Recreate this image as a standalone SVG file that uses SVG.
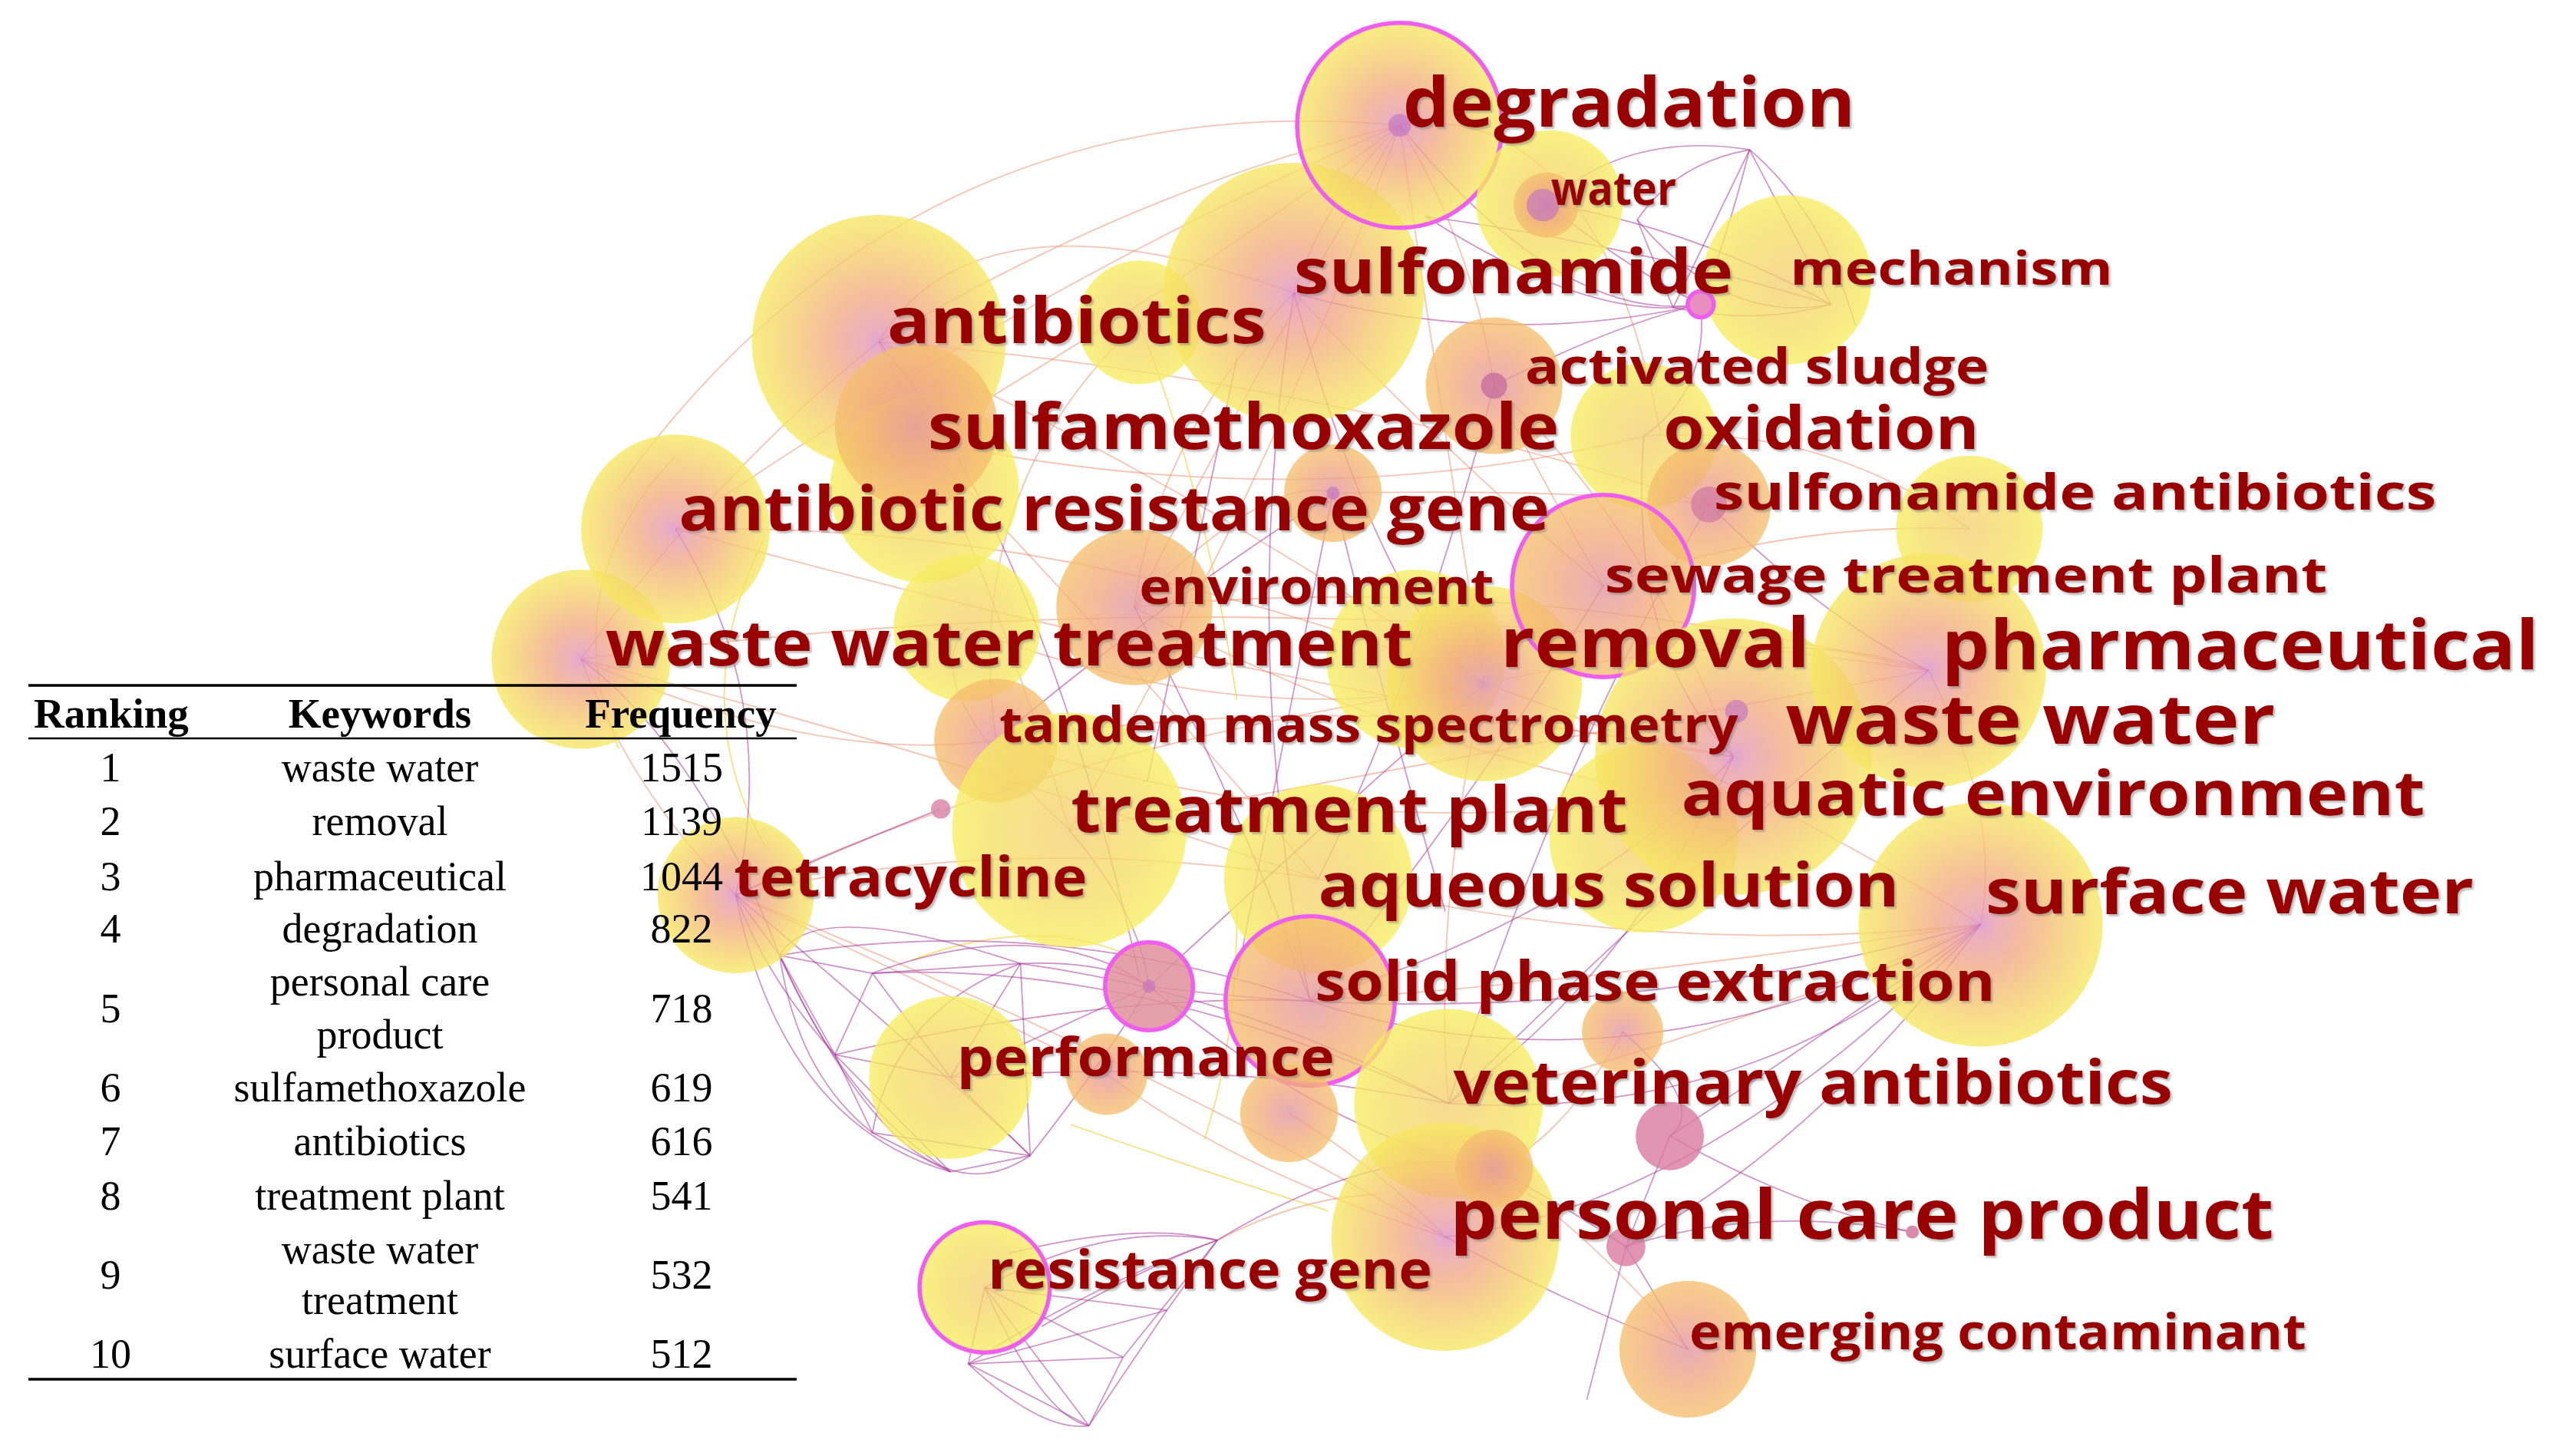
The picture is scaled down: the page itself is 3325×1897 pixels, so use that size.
<svg xmlns="http://www.w3.org/2000/svg" width="3325" height="1897" viewBox="0 0 3325 1897">
<defs>
<style>
.e1{fill:none;stroke:#ee8a66;stroke-opacity:.5;stroke-width:.85}
.e2{fill:none;stroke:#a8359a;stroke-opacity:.55;stroke-width:.8}
.e3{fill:none;stroke:#f2cf3a;stroke-opacity:.65;stroke-width:.85}
.n{fill-opacity:.78}
.ring{fill:none;stroke:#f05ef0;stroke-width:2.6}
.dot{fill:#c070c0;fill-opacity:.6}
.lb{font-family:'Open Sans','DejaVu Sans',sans-serif;font-weight:700;fill:#990000}
.th{font-family:'Liberation Serif','Times New Roman',serif;font-weight:700;font-size:55px;fill:#000;text-anchor:middle}
.td{font-family:'Liberation Serif','Times New Roman',serif;font-size:54px;fill:#000;text-anchor:middle}
.tl{stroke:#000;fill:none}
</style>
<radialGradient id="gRY"><stop offset="0" stop-color="#d88cc6"/><stop offset="0.12" stop-color="#e79aaa"/><stop offset="0.38" stop-color="#f2a982"/><stop offset="0.68" stop-color="#f6c96e"/><stop offset="1" stop-color="#f6e860"/></radialGradient>
<radialGradient id="gOY"><stop offset="0" stop-color="#e293a2"/><stop offset="0.55" stop-color="#f2aa7c"/><stop offset="1" stop-color="#f5c06c"/></radialGradient>
<radialGradient id="gYY"><stop offset="0" stop-color="#f4cf72"/><stop offset="0.7" stop-color="#f6e064"/><stop offset="1" stop-color="#f7ee60"/></radialGradient>
<radialGradient id="gPK"><stop offset="0" stop-color="#d97aa0"/><stop offset="1" stop-color="#e49a95"/></radialGradient>
<filter id="sh" x="-5%" y="-30%" width="110%" height="160%"><feDropShadow dx="1.2" dy="1.3" stdDeviation="0.6" flood-color="#777" flood-opacity="0.5"/></filter>
</defs>
<rect width="3325" height="1897" fill="#fff"/>
<g transform="scale(2.1205)">
<g id="connectors">
<path class="e1" d="M860,77 Q700,115 540,210"/>
<path class="e1" d="M860,77 Q735,170 565,270"/>
<path class="e1" d="M860,77 Q640,170 415,325"/>
<path class="e1" d="M860,77 Q770,230 697,373"/>
<path class="e1" d="M860,77 Q885,250 912,420"/>
<path class="e1" d="M860,77 Q815,120 795,180"/>
<path class="e1" d="M860,77 Q905,150 918,237"/>
<path class="e1" d="M860,77 Q780,300 657,510"/>
<path class="e1" d="M860,77 Q560,50 380,300"/>
<path class="e1" d="M860,77 Q980,60 1020,265"/>
<path class="e1" d="M540,210 Q720,290 912,420"/>
<path class="e1" d="M540,210 Q610,350 657,510"/>
<path class="e1" d="M540,210 Q440,290 357,405"/>
<path class="e1" d="M540,210 Q800,230 1050,310"/>
<path class="e1" d="M540,210 Q600,110 795,180"/>
<path class="e1" d="M415,325 Q660,320 912,420"/>
<path class="e1" d="M415,325 Q720,410 1065,465"/>
<path class="e1" d="M357,405 Q760,350 1185,412"/>
<path class="e1" d="M357,405 Q600,470 810,540"/>
<path class="e1" d="M357,405 Q390,490 452,550"/>
<path class="e1" d="M565,270 Q800,320 1010,268"/>
<path class="e1" d="M565,270 Q690,400 810,540"/>
<path class="e1" d="M697,373 Q930,350 1185,412"/>
<path class="e1" d="M697,373 Q860,460 1033,490"/>
<path class="e1" d="M912,420 Q1060,470 1217,568"/>
<path class="e1" d="M912,420 Q880,560 890,678"/>
<path class="e1" d="M612,455 Q850,420 1065,465"/>
<path class="e1" d="M657,510 Q920,460 1185,412"/>
<path class="e1" d="M452,550 Q620,510 810,540"/>
<path class="e1" d="M452,550 Q700,650 888,760"/>
<path class="e1" d="M810,540 Q1010,590 1217,568"/>
<path class="e1" d="M805,615 Q1010,600 1217,568"/>
<path class="e1" d="M890,678 Q1050,640 1217,568"/>
<path class="e1" d="M985,360 Q1100,320 1210,325"/>
<path class="e1" d="M1010,268 Q1120,260 1210,325"/>
<path class="e1" d="M918,237 Q1010,320 1065,465"/>
<path class="e1" d="M795,180 Q900,290 985,360"/>
<path class="e1" d="M795,180 Q710,270 697,373"/>
<path class="e1" d="M612,455 Q810,520 1033,490"/>
<path class="e1" d="M452,550 Q640,460 912,420"/>
<path class="e1" d="M357,405 Q500,470 612,455"/>
<path class="e1" d="M612,455 Q590,300 700,198"/>
<path class="e1" d="M657,510 Q560,420 594,386"/>
<path class="e1" d="M697,373 Q780,290 819,303"/>
<path class="e1" d="M819,303 Q960,300 1050,310"/>
<path class="e1" d="M594,386 Q760,450 912,420"/>
<path class="e1" d="M748,762 Q800,735 846,734"/>
<path class="e1" d="M680,660 Q760,720 888,760"/>
<path class="e1" d="M912,420 Q1100,380 1185,412"/>
<path class="e1" d="M1185,412 Q1230,500 1217,568"/>
<path class="e1" d="M985,360 Q950,300 918,237"/>
<path class="e1" d="M452,550 Q560,600 680,660"/>
<path class="e1" d="M792,684 Q850,720 888,760"/>
<path class="e1" d="M997,634 Q960,700 918,718"/>
<path class="e1" d="M1037,829 Q980,760 918,718"/>
<path class="e3" d="M700,198 Q740,300 760,430"/>
<path class="e3" d="M415,280 Q340,360 380,460"/>
<path class="e3" d="M470,330 Q420,430 470,520"/>
<path class="e3" d="M560,590 Q640,560 700,590"/>
<path class="e3" d="M760,560 Q760,640 740,700"/>
<path class="e3" d="M658,691 Q740,720 816,744"/>
<path class="e2" d="M1075,92 L1028,189"/>
<path class="e2" d="M1075,92 Q1060,150 1045,187"/>
<path class="e2" d="M1075,92 Q1100,140 1125,187"/>
<path class="e2" d="M1075,92 Q1030,100 1006,135"/>
<path class="e2" d="M1075,92 Q1000,80 950,125"/>
<path class="e2" d="M1075,92 Q1120,130 1140,200"/>
<path class="e2" d="M950,125 Q1000,165 1045,187"/>
<path class="e2" d="M950,125 Q1040,140 1125,187"/>
<path class="e2" d="M876,133 Q1000,150 1125,187"/>
<path class="e2" d="M876,133 Q980,200 1045,187"/>
<path class="e2" d="M1006,135 Q1060,200 1125,187"/>
<path class="e2" d="M1028,189 Q1080,200 1125,187"/>
<path class="e2" d="M860,77 Q960,200 1045,187"/>
<path class="e2" d="M795,180 Q920,215 1045,187"/>
<path class="e2" d="M918,237 Q990,200 1045,187"/>
<path class="e2" d="M1006,135 Q1020,170 1028,189"/>
<path class="e2" d="M1045,187 Q1050,240 1010,268"/>
<path class="e2" d="M819,303 L760,600"/>
<path class="e2" d="M819,303 Q850,430 888,560"/>
<path class="e2" d="M697,373 Q760,490 805,615"/>
<path class="e2" d="M760,220 L705,480"/>
<path class="e2" d="M612,455 Q700,380 819,303"/>
<path class="e2" d="M540,210 Q640,330 700,600"/>
<path class="e2" d="M795,180 Q760,400 805,615"/>
<path class="e2" d="M795,180 Q850,380 912,420"/>
<path class="e2" d="M918,237 Q870,420 810,540"/>
<path class="e2" d="M1050,310 Q960,460 890,678"/>
<path class="e2" d="M1065,465 Q980,560 805,615"/>
<path class="e2" d="M1065,465 Q1000,600 890,678"/>
<path class="e2" d="M1185,412 Q1050,520 890,678"/>
<path class="e2" d="M912,420 Q820,500 706,606"/>
<path class="e2" d="M985,360 Q900,500 805,615"/>
<path class="e2" d="M657,510 Q700,560 706,606"/>
<path class="e2" d="M1010,268 Q1000,400 1065,465"/>
<path class="e2" d="M1050,310 Q1120,380 1185,412"/>
<path class="e2" d="M479,587 Q640,560 805,615"/>
<path class="e2" d="M536,598 Q700,590 890,678"/>
<path class="e2" d="M513,648 Q680,610 805,615"/>
<path class="e2" d="M627,592 Q760,610 890,678"/>
<path class="e2" d="M706,606 Q960,640 1217,568"/>
<path class="e2" d="M805,615 Q1000,680 1217,568"/>
<path class="e2" d="M890,678 Q1080,690 1217,568"/>
<path class="e2" d="M1217,568 Q1100,650 1026,698"/>
<path class="e2" d="M1217,568 Q1120,700 999,766"/>
<path class="e2" d="M1217,568 Q1050,740 888,760"/>
<path class="e2" d="M584,662 Q750,650 890,678"/>
<path class="e2" d="M706,606 Q820,700 918,718"/>
<path class="e2" d="M888,760 Q960,800 1037,829"/>
<path class="e2" d="M999,766 L1037,829"/>
<path class="e2" d="M999,766 Q1080,740 1175,757"/>
<path class="e2" d="M1026,698 Q1100,740 1175,757"/>
<path class="e2" d="M999,766 Q985,820 975,860"/>
<path class="e2" d="M918,718 Q960,740 999,766"/>
<path class="e2" d="M1026,698 L999,766"/>
<path class="e2" d="M997,634 Q1050,680 1026,698"/>
<path class="e2" d="M748,762 Q850,700 918,718"/>
<path class="e2" d="M452,550 L479,587"/>
<path class="e2" d="M452,550 Q470,600 513,648"/>
<path class="e2" d="M452,550 Q480,690 584,720"/>
<path class="e2" d="M479,587 L536,598"/>
<path class="e2" d="M479,587 L513,648"/>
<path class="e2" d="M479,587 Q490,660 536,696"/>
<path class="e2" d="M479,587 Q520,680 584,720"/>
<path class="e2" d="M536,598 L627,592"/>
<path class="e2" d="M536,598 L513,648"/>
<path class="e2" d="M536,598 L584,662"/>
<path class="e2" d="M627,592 L584,662"/>
<path class="e2" d="M627,592 L633,710"/>
<path class="e2" d="M627,592 Q680,590 706,606"/>
<path class="e2" d="M513,648 L536,696"/>
<path class="e2" d="M513,648 L584,720"/>
<path class="e2" d="M513,648 L584,662"/>
<path class="e2" d="M536,696 L584,720"/>
<path class="e2" d="M536,696 L633,710"/>
<path class="e2" d="M584,720 L633,710"/>
<path class="e2" d="M633,710 L584,662"/>
<path class="e2" d="M633,710 Q680,650 706,606"/>
<path class="e2" d="M584,662 L706,606"/>
<path class="e2" d="M536,598 Q640,560 706,606"/>
<path class="e2" d="M479,587 Q500,550 627,592"/>
<path class="e2" d="M536,696 Q550,620 627,592"/>
<path class="e2" d="M452,550 Q560,640 633,710"/>
<path class="e2" d="M479,587 Q560,760 633,710"/>
<path class="e2" d="M452,550 Q520,520 578,497"/>
<path class="e2" d="M415,325 Q480,430 452,550"/>
<path class="e2" d="M357,405 Q430,460 479,587"/>
<path class="e2" d="M605,791 Q680,750 748,762"/>
<path class="e2" d="M605,791 L717,805"/>
<path class="e2" d="M605,791 L690,834"/>
<path class="e2" d="M605,791 L595,838"/>
<path class="e2" d="M605,791 L669,876"/>
<path class="e2" d="M595,838 L669,876"/>
<path class="e2" d="M595,838 L690,834"/>
<path class="e2" d="M595,838 L717,805"/>
<path class="e2" d="M748,762 L690,834"/>
<path class="e2" d="M748,762 L717,805"/>
<path class="e2" d="M717,805 L669,876"/>
<path class="e2" d="M690,834 L669,876"/>
<path class="e2" d="M595,838 Q670,790 748,762"/>
<path class="e2" d="M620,770 Q700,750 748,762"/>
<path class="e2" d="M595,838 Q640,880 669,876"/>
<path class="e2" d="M605,791 Q640,870 669,876"/>
<path class="e2" d="M640,815 Q700,780 748,762"/>
</g>
<g id="nodes">
<g id="node-waste-water-treatment"><circle class="n" cx="357" cy="405" r="55" fill="url(#gRY)"/></g>
<g id="node-antibiotic-resistance-gene"><circle class="n" cx="415" cy="325" r="58" fill="url(#gRY)"/></g>
<g id="node-antibiotics"><circle class="n" cx="540" cy="210" r="78" fill="url(#gRY)"/></g>
<g id="node-y1"><circle class="n" cx="568" cy="300" r="58" fill="url(#gYY)"/></g>
<g id="node-sulfamethoxazole"><circle class="n" cx="563" cy="262" r="50" fill="url(#gOY)"/></g>
<g id="node-y2"><circle class="n" cx="700" cy="198" r="38" fill="url(#gYY)"/></g>
<g id="node-sulfonamide"><circle class="n" cx="795" cy="180" r="80" fill="url(#gRY)"/></g>
<g id="node-degradation"><circle class="n" cx="860" cy="77" r="63" fill="url(#gRY)"/><circle class="ring" cx="860" cy="77" r="63"/><circle class="dot" cx="860" cy="77" r="7"/></g>
<g id="node-water"><circle class="n" cx="952" cy="125" r="45" fill="url(#gYY)"/><circle class="n" cx="950" cy="126" r="20" fill="url(#gOY)"/><circle class="dot" cx="948" cy="126" r="10"/></g>
<g id="node-mechanism"><circle class="n" cx="1098" cy="172" r="52" fill="url(#gYY)"/></g>
<g id="node-m1"><circle fill="#e98fbf" cx="1045" cy="187" r="8"/><circle class="ring" cx="1045" cy="187" r="8"/></g>
<g id="node-activated-sludge"><circle class="n" cx="918" cy="237" r="42" fill="url(#gOY)"/><circle fill="#c8709a" fill-opacity=".8" cx="918" cy="237" r="8"/></g>
<g id="node-oxidation"><circle class="n" cx="1010" cy="268" r="45" fill="url(#gYY)"/></g>
<g id="node-sulfonamide-antibiotics"><circle class="n" cx="1050" cy="310" r="38" fill="url(#gOY)"/><circle fill="#d0789e" fill-opacity=".7" cx="1050" cy="310" r="11"/></g>
<g id="node-y3"><circle class="n" cx="1210" cy="325" r="45" fill="url(#gYY)"/></g>
<g id="node-o1"><circle class="n" cx="819" cy="303" r="30" fill="url(#gOY)"/><circle class="dot" cx="819" cy="303" r="4"/></g>
<g id="node-y4"><circle class="n" cx="594" cy="386" r="45" fill="url(#gYY)"/></g>
<g id="node-environment"><circle class="n" cx="697" cy="373" r="48" fill="url(#gOY)"/></g>
<g id="node-y5"><circle class="n" cx="870" cy="405" r="55" fill="url(#gYY)"/></g>
<g id="node-removal"><circle class="n" cx="912" cy="420" r="60" fill="url(#gRY)"/></g>
<g id="node-sewage-treatment-plant"><circle class="n" cx="985" cy="360" r="56" fill="url(#gOY)"/><circle class="ring" cx="985" cy="360" r="56"/></g>
<g id="node-aquatic-environment"><circle class="n" cx="1010" cy="515" r="58" fill="url(#gYY)"/></g>
<g id="node-waste-water"><circle class="n" cx="1065" cy="465" r="85" fill="url(#gRY)"/><circle class="dot" cx="1067" cy="437" r="7"/></g>
<g id="node-pharmaceutical"><circle class="n" cx="1185" cy="412" r="72" fill="url(#gRY)"/></g>
<g id="node-tandem-mass-spectrometry"><circle class="n" cx="612" cy="455" r="38" fill="url(#gOY)"/></g>
<g id="node-treatment-plant"><circle class="n" cx="657" cy="510" r="72" fill="url(#gYY)"/></g>
<g id="node-p1"><circle fill="#d98aa8" fill-opacity=".85" cx="578" cy="497" r="6"/></g>
<g id="node-tetracycline"><circle class="n" cx="452" cy="550" r="48" fill="url(#gRY)"/></g>
<g id="node-aqueous-solution"><circle class="n" cx="810" cy="540" r="58" fill="url(#gYY)"/></g>
<g id="node-surface-water"><circle class="n" cx="1217" cy="568" r="75" fill="url(#gRY)"/></g>
<g id="node-solid-phase-extraction"><circle class="n" cx="805" cy="615" r="52" fill="url(#gOY)"/><circle class="ring" cx="805" cy="615" r="52"/></g>
<g id="node-performance-ring"><circle fill="#e0909a" fill-opacity=".85" cx="706" cy="606" r="27"/><circle class="ring" cx="706" cy="606" r="27"/><circle class="dot" cx="706" cy="606" r="4"/></g>
<g id="node-performance"><circle class="n" cx="584" cy="662" r="50" fill="url(#gYY)"/></g>
<g id="node-o2"><circle class="n" cx="680" cy="660" r="25" fill="url(#gOY)"/></g>
<g id="node-o3"><circle class="n" cx="792" cy="684" r="30" fill="url(#gOY)"/></g>
<g id="node-veterinary-antibiotics"><circle class="n" cx="890" cy="678" r="58" fill="url(#gYY)"/></g>
<g id="node-o4"><circle class="n" cx="997" cy="634" r="25" fill="url(#gOY)"/></g>
<g id="node-p2"><circle fill="#d97aa0" fill-opacity=".8" cx="1026" cy="698" r="21"/></g>
<g id="node-personal-care-product"><circle class="n" cx="888" cy="760" r="70" fill="url(#gRY)"/><circle class="n" cx="918" cy="718" r="24" fill="url(#gOY)"/></g>
<g id="node-p3"><circle fill="#d97aa0" fill-opacity=".8" cx="999" cy="766" r="12"/><circle fill="#d98aa8" cx="1175" cy="757" r="4"/></g>
<g id="node-resistance-gene"><circle class="n" cx="605" cy="791" r="40" fill="url(#gYY)"/><circle class="ring" cx="605" cy="791" r="40"/></g>
<g id="node-emerging-contaminant"><circle class="n" cx="1037" cy="829" r="42" fill="url(#gOY)"/></g>
</g>
<g id="labels" filter="url(#sh)">
<text class="lb" x="862" y="78" font-size="42" textLength="278" lengthAdjust="spacingAndGlyphs">degradation</text>
<text class="lb" x="953" y="126" font-size="29" textLength="77" lengthAdjust="spacingAndGlyphs">water</text>
<text class="lb" x="795" y="180" font-size="38" textLength="270" lengthAdjust="spacingAndGlyphs">sulfonamide</text>
<text class="lb" x="1100" y="175" font-size="29" textLength="198" lengthAdjust="spacingAndGlyphs">mechanism</text>
<text class="lb" x="545" y="211" font-size="39" textLength="233" lengthAdjust="spacingAndGlyphs">antibiotics</text>
<text class="lb" x="937" y="236" font-size="30" textLength="285" lengthAdjust="spacingAndGlyphs">activated sludge</text>
<text class="lb" x="570" y="276" font-size="39" textLength="388" lengthAdjust="spacingAndGlyphs">sulfamethoxazole</text>
<text class="lb" x="1022" y="276" font-size="36" textLength="194" lengthAdjust="spacingAndGlyphs">oxidation</text>
<text class="lb" x="1053" y="313" font-size="30" textLength="444" lengthAdjust="spacingAndGlyphs">sulfonamide antibiotics</text>
<text class="lb" x="417" y="326" font-size="38" textLength="535" lengthAdjust="spacingAndGlyphs">antibiotic resistance gene</text>
<text class="lb" x="986" y="364" font-size="30" textLength="444" lengthAdjust="spacingAndGlyphs">sewage treatment plant</text>
<text class="lb" x="700" y="371" font-size="30" textLength="218" lengthAdjust="spacingAndGlyphs">environment</text>
<text class="lb" x="372" y="409" font-size="39" textLength="496" lengthAdjust="spacingAndGlyphs">waste water treatment</text>
<text class="lb" x="922" y="410" font-size="42" textLength="190" lengthAdjust="spacingAndGlyphs">removal</text>
<text class="lb" x="1193" y="411" font-size="42" textLength="367" lengthAdjust="spacingAndGlyphs">pharmaceutical</text>
<text class="lb" x="614" y="456" font-size="30" textLength="454" lengthAdjust="spacingAndGlyphs">tandem mass spectrometry</text>
<text class="lb" x="1097" y="457" font-size="42" textLength="301" lengthAdjust="spacingAndGlyphs">waste water</text>
<text class="lb" x="658" y="511" font-size="39" textLength="342" lengthAdjust="spacingAndGlyphs">treatment plant</text>
<text class="lb" x="1033" y="501" font-size="38" textLength="457" lengthAdjust="spacingAndGlyphs">aquatic environment</text>
<text class="lb" x="451" y="551" font-size="34" textLength="217" lengthAdjust="spacingAndGlyphs">tetracycline</text>
<text class="lb" x="810" y="557" font-size="37" textLength="357" lengthAdjust="spacingAndGlyphs">aqueous solution</text>
<text class="lb" x="1220" y="561" font-size="38" textLength="300" lengthAdjust="spacingAndGlyphs">surface water</text>
<text class="lb" x="808" y="615" font-size="34" textLength="418" lengthAdjust="spacingAndGlyphs">solid phase extraction</text>
<text class="lb" x="588" y="661" font-size="33" textLength="232" lengthAdjust="spacingAndGlyphs">performance</text>
<text class="lb" x="893" y="678" font-size="37" textLength="442" lengthAdjust="spacingAndGlyphs">veterinary antibiotics</text>
<text class="lb" x="891" y="761" font-size="42" textLength="506" lengthAdjust="spacingAndGlyphs">personal care product</text>
<text class="lb" x="607" y="792" font-size="33" textLength="273" lengthAdjust="spacingAndGlyphs">resistance gene</text>
<text class="lb" x="1038" y="829" font-size="30" textLength="379" lengthAdjust="spacingAndGlyphs">emerging contaminant</text>
</g>
</g>
<g id="table">
<line class="tl" x1="37" y1="893" x2="1038" y2="893" stroke-width="3.5"/>
<line class="tl" x1="37" y1="962" x2="1038" y2="962" stroke-width="2.5"/>
<line class="tl" x1="37" y1="1797" x2="1038" y2="1797" stroke-width="3.5"/>
<text class="th" x="145" y="948">Ranking</text>
<text class="th" x="495" y="948">Keywords</text>
<text class="th" x="887" y="948">Frequency</text>
<text class="td" x="144" y="1018">1</text><text class="td" x="495" y="1018">waste water</text><text class="td" x="888" y="1018">1515</text>
<text class="td" x="144" y="1088">2</text><text class="td" x="495" y="1088">removal</text><text class="td" x="888" y="1088">1139</text>
<text class="td" x="144" y="1160">3</text><text class="td" x="495" y="1160">pharmaceutical</text><text class="td" x="888" y="1160">1044</text>
<text class="td" x="144" y="1228">4</text><text class="td" x="495" y="1228">degradation</text><text class="td" x="888" y="1228">822</text>
<text class="td" x="144" y="1332">5</text><text class="td" x="495" y="1297">personal care</text><text class="td" x="495" y="1366">product</text><text class="td" x="888" y="1332">718</text>
<text class="td" x="144" y="1435">6</text><text class="td" x="495" y="1435">sulfamethoxazole</text><text class="td" x="888" y="1435">619</text>
<text class="td" x="144" y="1505">7</text><text class="td" x="495" y="1505">antibiotics</text><text class="td" x="888" y="1505">616</text>
<text class="td" x="144" y="1576">8</text><text class="td" x="495" y="1576">treatment plant</text><text class="td" x="888" y="1576">541</text>
<text class="td" x="144" y="1679">9</text><text class="td" x="495" y="1646">waste water</text><text class="td" x="495" y="1712">treatment</text><text class="td" x="888" y="1679">532</text>
<text class="td" x="144" y="1782">10</text><text class="td" x="495" y="1782">surface water</text><text class="td" x="888" y="1782">512</text>
</g>
</svg>
